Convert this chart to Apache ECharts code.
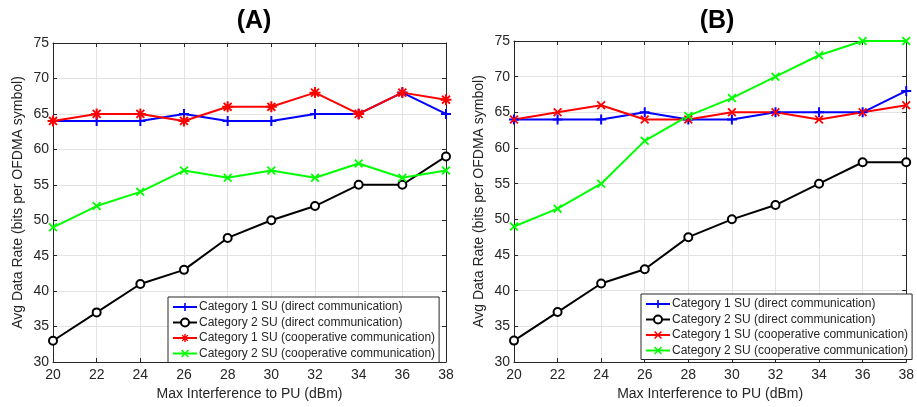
<!DOCTYPE html>
<html>
<head>
<meta charset="utf-8">
<script src="https://cdn.jsdelivr.net/npm/echarts@6/dist/echarts.min.js"></script>
<style>
html,body{margin:0;padding:0;background:#fff;}
#chart{width:917px;height:407px;}
</style>
</head>
<body>
<div id="chart"></div>
<script>
// ---- data ----
const xValues = [20, 22, 24, 26, 28, 30, 32, 34, 36, 38];
const seriesNames = [
  "Category 1 SU (direct communication)",
  "Category 2 SU (direct communication)",
  "Category 1 SU (cooperative communication)",
  "Category 2 SU (cooperative communication)"
];
// Panel (A)
const aCat1Direct = [64, 64, 64, 65, 64, 64, 65, 65, 68, 65];
const aCat2Direct = [33, 37, 41, 43, 47.5, 50, 52, 55, 55, 59];
const aCat1Coop   = [64, 65, 65, 64, 66, 66, 68, 65, 68, 67];
const aCat2Coop   = [49, 52, 54, 57, 56, 57, 56, 58, 56, 57];
// Panel (B)
const bCat1Direct = [64, 64, 64, 65, 64, 64, 65, 65, 65, 68];
const bCat2Direct = [33, 37, 41, 43, 47.5, 50, 52, 55, 58, 58];
const bCat1Coop   = [64, 65, 66, 64, 64, 65, 65, 64, 65, 66];
const bCat2Coop   = [49, 51.5, 55, 61, 64.5, 67, 70, 73, 75, 75];
const panelTitles = ["(A)", "(B)"];
const xName = "Max Interference to PU (dBm)";
const yName = "Avg Data Rate (bits per OFDMA symbol)";

// ---- styling ----
const FONT = "Liberation Sans";
const TXT = "#262626";
const colors = ["#0000ff", "#000000", "#ff0000", "#00ff00"];
const PLUS = "path://M-1,-5 H1 V-1 H5 V1 H1 V5 H-1 V1 H-5 V-1 H-1 Z";
const XMARK = "path://M-5,-3.6 L-3.6,-5 L5,3.6 L3.6,5 Z M3.6,-5 L5,-3.6 L-3.6,5 L-5,3.6 Z";
const STAR = "path://M-0.9,-5 H0.9 V-0.9 H5 V0.9 H0.9 V5 H-0.9 V0.9 H-5 V-0.9 H-0.9 Z M-4.2,-3 L-3,-4.2 L4.2,3 L3,4.2 Z M3,-4.2 L4.2,-3 L-3,4.2 L-4.2,3 Z";

const grids = [
  {left: 53, width: 393, top: 43, height: 319},
  {left: 514, width: 397, top: 41, height: 321}
];

function pairs(arr) { return xValues.map((x, i) => [x, arr[i]]); }

const xAxes = [], yAxes = [];
grids.forEach((g, gi) => {
  const common = {gridIndex: gi, type: 'value', min: 20, max: 38, interval: 2,
    axisLine: {show: true, onZero: false, lineStyle: {color: TXT, width: 1}},
    axisTick: {show: true, inside: true, length: 4, lineStyle: {color: TXT}}};
  xAxes.push(Object.assign({}, common, {position: 'bottom',
    name: xName, nameLocation: 'middle', nameGap: 24,
    nameTextStyle: {fontFamily: FONT, fontSize: 14, color: TXT},
    axisLabel: {fontFamily: FONT, fontSize: 14, color: TXT, margin: 6},
    splitLine: {show: true, lineStyle: {color: '#e3e3e3', width: 1}}}));
  xAxes.push(Object.assign({}, common, {position: 'top',
    axisLabel: {show: false}, splitLine: {show: false}}));
  const ycommon = {gridIndex: gi, type: 'value', min: 30, max: 75, interval: 5,
    axisLine: {show: true, onZero: false, lineStyle: {color: TXT, width: 1}},
    axisTick: {show: true, inside: true, length: 4, lineStyle: {color: TXT}}};
  yAxes.push(Object.assign({}, ycommon, {position: 'left',
    name: yName, nameLocation: 'middle', nameGap: 28,
    nameTextStyle: {fontFamily: FONT, fontSize: 14, color: TXT},
    axisLabel: {fontFamily: FONT, fontSize: 14, color: TXT, margin: 4},
    splitLine: {show: true, lineStyle: {color: '#e3e3e3', width: 1}}}));
  yAxes.push(Object.assign({}, ycommon, {position: 'right',
    axisLabel: {show: false}, splitLine: {show: false}}));
});

function mk(prefix, gi, idx, arr, symbol, size) {
  const isCircle = symbol === 'emptyCircle';
  return {
    name: prefix + seriesNames[idx], type: 'line',
    xAxisIndex: gi * 2, yAxisIndex: gi * 2,
    data: pairs(arr), symbol: symbol, symbolSize: size,
    showAllSymbol: true, animation: false,
    lineStyle: {color: colors[idx], width: 2},
    itemStyle: isCircle ? {color: colors[idx], borderColor: colors[idx], borderWidth: 1.5}
                        : {color: colors[idx], borderWidth: 0},
    emphasis: {disabled: true}
  };
}

const series = [
  mk("A:", 0, 0, aCat1Direct, PLUS, 10),
  mk("A:", 0, 1, aCat2Direct, 'emptyCircle', 8),
  mk("A:", 0, 2, aCat1Coop, STAR, 11),
  mk("A:", 0, 3, aCat2Coop, XMARK, 9),
  mk("B:", 1, 0, bCat1Direct, PLUS, 10),
  mk("B:", 1, 1, bCat2Direct, 'emptyCircle', 8),
  mk("B:", 1, 2, bCat1Coop, XMARK, 9),
  mk("B:", 1, 3, bCat2Coop, XMARK, 9)
];

function legend(prefix, left, top) {
  return {
    data: seriesNames.map(n => prefix + n),
    orient: 'vertical', left: left, top: top,
    itemWidth: 24, itemHeight: 10, itemGap: 1.5,
    padding: [3, 4, 2, 4],
    backgroundColor: '#fff', borderColor: TXT, borderWidth: 1, borderRadius: 0,
    selectedMode: false,
    formatter: n => n.slice(2),
    textStyle: {fontFamily: FONT, fontSize: 12, lineHeight: 14, color: TXT, padding: [0, 0, 0, -3]}
  };
}

const option = {
  backgroundColor: '#fff',
  animation: false,
  title: [
    {text: panelTitles[0], left: 249, top: 4, textAlign: 'center',
     textStyle: {fontFamily: FONT, fontSize: 25, fontWeight: 'bold', color: '#000'}},
    {text: panelTitles[1], left: 712, top: 4, textAlign: 'center',
     textStyle: {fontFamily: FONT, fontSize: 25, fontWeight: 'bold', color: '#000'}}
  ],
  grid: grids,
  xAxis: xAxes,
  yAxis: yAxes,
  legend: [legend("A:", 168, 297), legend("B:", 641, 294)],
  series: series
};

const chart = echarts.init(document.getElementById('chart'), null, {renderer: 'canvas'});
chart.setOption(option);
</script>
</body>
</html>
